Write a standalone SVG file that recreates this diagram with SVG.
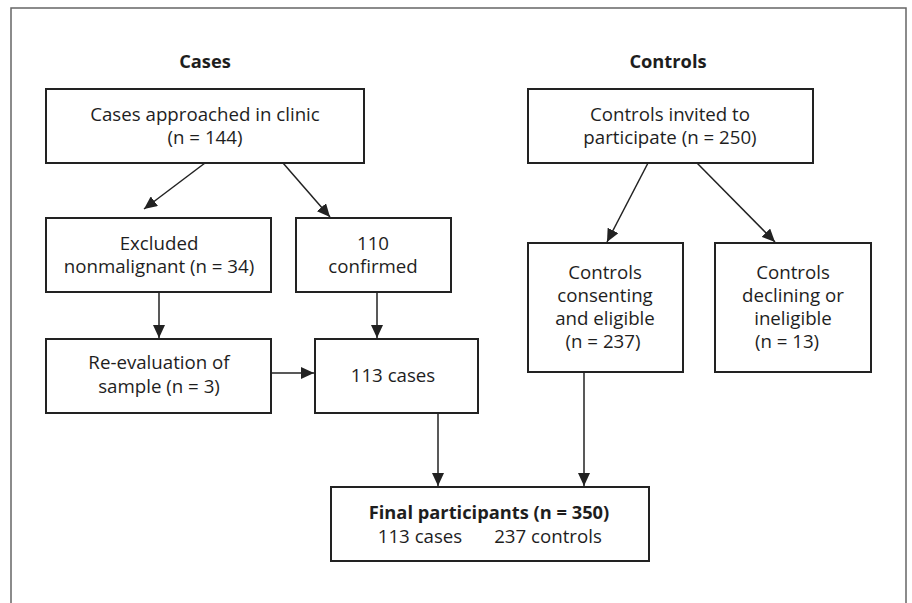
<svg xmlns="http://www.w3.org/2000/svg" width="912" height="603" viewBox="0 0 912 603">
<defs>
<marker id="ah" markerWidth="13" markerHeight="12" refX="13" refY="6" orient="auto" markerUnits="userSpaceOnUse">
<path d="M0,0 L13,6 L0,12 Z" fill="#222"/>
</marker>
</defs>
<style>
.frame{fill:none;stroke:#666;stroke-width:1.5}
.box{fill:#fff;stroke:#222;stroke-width:2}
.t{font-family:"Open Sans","Noto Sans",sans-serif;font-size:18.7px;fill:#1e1e1e;text-anchor:middle}
.b{font-weight:bold;font-size:18.3px}
.c{stroke:#222;stroke-width:1.5;fill:none;marker-end:url(#ah)}
</style>
<rect width="912" height="603" fill="#fff"/>
<path class="frame" d="M11,603 V8 H906 V603"/>
<text class="t b" x="205" y="68">Cases</text>
<text class="t b" x="668" y="68">Controls</text>
<g id="n_cases_approached">
<rect class="box" x="46" y="89" width="318" height="74"/>
<text class="t" x="205" y="121">Cases approached in clinic</text>
<text class="t" x="205" y="144">(n = 144)</text>
</g>
<g id="n_controls_invited">
<rect class="box" x="528" y="89" width="285" height="74"/>
<text class="t" x="670" y="121">Controls invited to</text>
<text class="t" x="670" y="144">participate (n = 250)</text>
</g>
<g id="n_excluded">
<rect class="box" x="46" y="218" width="225" height="74"/>
<text class="t" x="159" y="250">Excluded</text>
<text class="t" x="159" y="273">nonmalignant (n = 34)</text>
</g>
<g id="n_confirmed">
<rect class="box" x="296" y="218" width="155" height="74"/>
<text class="t" x="373" y="250">110</text>
<text class="t" x="373" y="273">confirmed</text>
</g>
<g id="n_reeval">
<rect class="box" x="46" y="339" width="225" height="74"/>
<text class="t" x="159" y="369">Re-evaluation of</text>
<text class="t" x="159" y="393">sample (n = 3)</text>
</g>
<g id="n_113cases">
<rect class="box" x="315" y="339" width="163" height="74"/>
<text class="t" x="393" y="382">113 cases</text>
</g>
<g id="n_consenting">
<rect class="box" x="528" y="243" width="155" height="129"/>
<text class="t" x="605" y="279">Controls</text>
<text class="t" x="605" y="302">consenting</text>
<text class="t" x="605" y="325">and eligible</text>
<text class="t" x="603" y="348">(n = 237)</text>
</g>
<g id="n_declining">
<rect class="box" x="715" y="243" width="156" height="129"/>
<text class="t" x="793" y="279">Controls</text>
<text class="t" x="793" y="302">declining or</text>
<text class="t" x="793" y="325">ineligible</text>
<text class="t" x="787" y="348">(n = 13)</text>
</g>
<g id="n_final">
<rect class="box" x="331" y="487" width="318" height="74"/>
<text class="t b" x="489" y="519">Final participants (n = 350)</text>
<text class="t" x="420" y="543">113 cases</text>
<text class="t" x="548" y="543">237 controls</text>
</g>
<g id="connectors">
<line class="c" x1="205" y1="163" x2="144" y2="209"/>
<line class="c" x1="283" y1="163" x2="330" y2="217"/>
<line class="c" x1="648" y1="163" x2="607" y2="242"/>
<line class="c" x1="697" y1="163" x2="775" y2="242"/>
<line class="c" x1="159" y1="292" x2="159" y2="338"/>
<line class="c" x1="377" y1="292" x2="377" y2="338"/>
<line class="c" x1="271" y1="373" x2="314" y2="373"/>
<line class="c" x1="438" y1="413" x2="438" y2="486"/>
<line class="c" x1="584" y1="372" x2="584" y2="486"/>
</g>
</svg>
